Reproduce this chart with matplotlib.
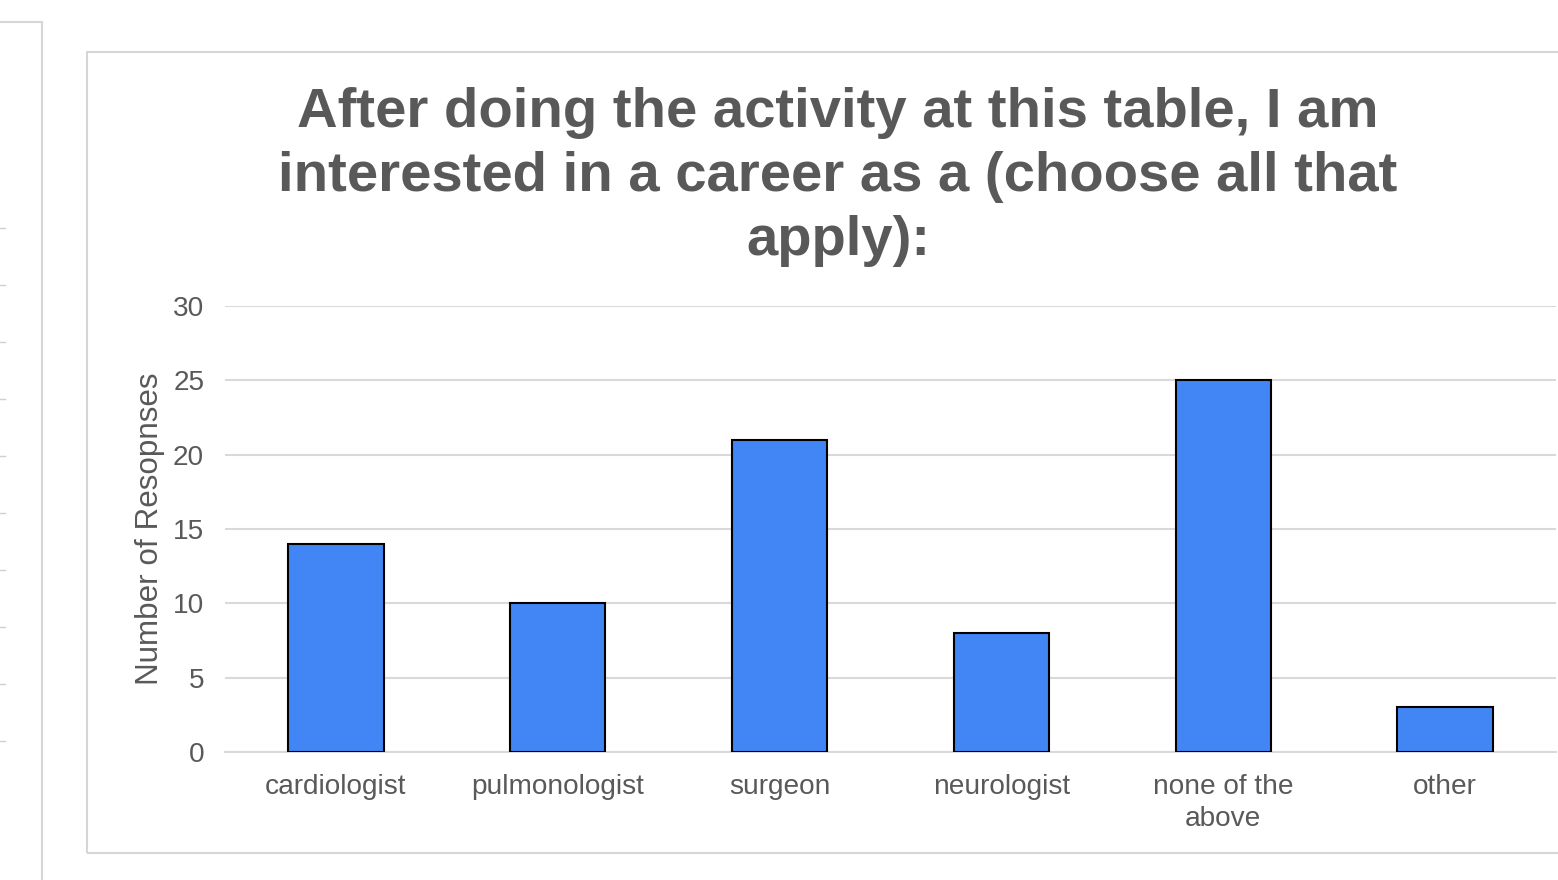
import matplotlib
matplotlib.use("Agg")
import matplotlib.pyplot as plt
from matplotlib.patches import Rectangle
from matplotlib.lines import Line2D

# dane z wykresu
kategorie = ["cardiologist", "pulmonologist", "surgeon", "neurologist", "none of the\nabove", "other"]
odpowiedzi = [14, 10, 21, 8, 25, 3]
y_ticks = [0, 5, 10, 15, 20, 25, 30]
tytul = "After doing the activity at this table, I am\ninterested in a career as a (choose all that\napply):"
os_y = "Number of Resopnses"

plt.rcParams['font.family'] = ['Liberation Sans', 'DejaVu Sans']
szary = '#595959'
siatka = '#d9d9d9'

W, H = 1558, 880
fig = plt.figure(figsize=(W / 100, H / 100), dpi=100)
fig.patch.set_facecolor('white')

# ramki w tle (zrzut ekranu)
fig.add_artist(Rectangle((87 / W, 1 - 853 / H), (1600 - 87) / W, (853 - 52) / H,
                         transform=fig.transFigure, fill=False, edgecolor='#d6d6d6', lw=1.5))
fig.add_artist(Line2D([42 / W, 42 / W], [0, 1 - 22 / H], transform=fig.transFigure, color='#d6d6d6', lw=1.5))
fig.add_artist(Line2D([0, 42 / W], [1 - 22 / H, 1 - 22 / H], transform=fig.transFigure, color='#d6d6d6', lw=1.5))
for i in range(10):
    yy = 1 - (228 + 57 * i) / H
    fig.add_artist(Line2D([0, 5 / W], [yy, yy], transform=fig.transFigure, color='#d0d0d0', lw=1))

ax = fig.add_axes([225 / W, 128 / H, 1331 / W, 446 / H])
x = range(len(kategorie))
ax.bar(x, odpowiedzi, width=0.43, color='#4285f4', edgecolor='black', linewidth=1.5, zorder=3)
ax.set_xlim(-0.5, len(kategorie) - 0.5)
ax.set_ylim(0, 30)
ax.set_yticks(y_ticks)
ax.set_xticks(list(x))
ax.set_xticklabels(kategorie, fontsize=20.2, color=szary, linespacing=1.3)
ax.tick_params(axis='y', labelsize=20.2, labelcolor=szary, length=0, pad=15)
ax.tick_params(axis='x', length=0, pad=16)
ax.yaxis.grid(True, color=siatka, lw=1.5, zorder=0)
for s in ['top', 'right', 'left']:
    ax.spines[s].set_visible(False)
ax.spines['bottom'].set_color(siatka)
ax.spines['bottom'].set_linewidth(1.5)
ax.set_ylabel(os_y, fontsize=22.6, color=szary, labelpad=6)

fig.text(838 / W, 1 - 177 / H, tytul, ha='center', va='center', fontsize=40.5,
         fontweight='bold', color=szary, linespacing=1.31)

fig.savefig("out.png", dpi=100)
